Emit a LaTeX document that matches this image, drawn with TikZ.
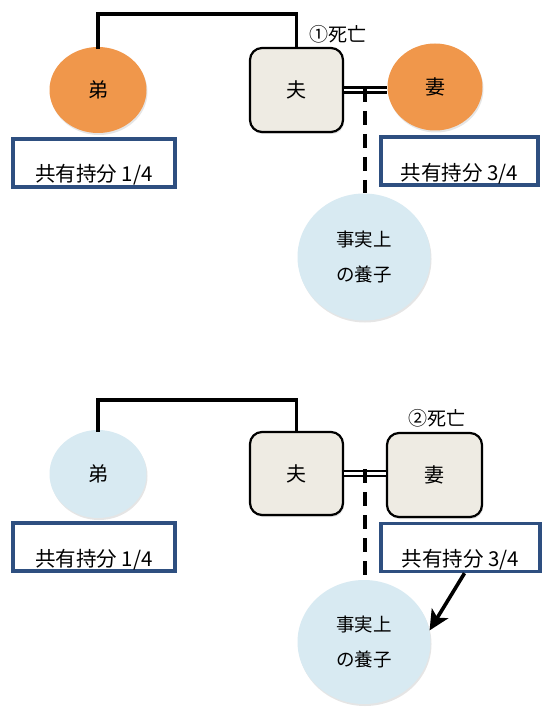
\documentclass[tikz,border=0pt]{standalone}
\usepackage{fontspec}
\setmainfont{Noto Sans CJK JP}
\usetikzlibrary{arrows.meta,positioning,shapes.geometric,shadows}
\definecolor{HeirOrange}{HTML}{F0974B}
\definecolor{HeirBlue}{HTML}{D8EAF2}
\definecolor{ShareBlue}{HTML}{2E4F80}
\definecolor{DeadBeige}{HTML}{EEEBE3}
\tikzset{
  heir/.style={ellipse,fill=HeirOrange,minimum width=97pt,minimum height=86pt,inner sep=0pt,font=\fontsize{20}{22}\selectfont,drop shadow={shadow xshift=1pt,shadow yshift=-2pt,opacity=0.2}},
  heirb/.style={heir,fill=HeirBlue},
  child/.style={heirb,minimum width=133pt,minimum height=127pt,align=center,font=\fontsize{18.5}{35}\selectfont},
  deadbox/.style={rectangle,rounded corners=12pt,draw=black,line width=2.2pt,fill=DeadBeige,minimum width=93pt,minimum height=84pt,inner sep=0pt,font=\fontsize{20}{22}\selectfont,drop shadow={shadow xshift=1pt,shadow yshift=-2pt,opacity=0.25}},
  sharebox/.style={rectangle,draw=ShareBlue,line width=3.4pt,fill=white,minimum height=48pt,text height=38pt,text depth=0pt,inner sep=0pt,font=\fontsize{20.5}{22}\selectfont},
  deathnote/.style={font=\fontsize{19}{22}\selectfont,inner sep=0pt},
  famline/.style={line width=3.8pt,line cap=rect},
  marriage/.style={double,double distance=2.4pt,line width=2.4pt},
  adopt/.style={line width=3.6pt,dash pattern=on 14pt off 9pt},
  arrowk/.style={-{Stealth[length=20pt,width=19pt,inset=5pt]},line width=3.6pt},
}
\begin{document}
\begin{tikzpicture}[x=1pt,y=-1pt]
  \useasboundingbox[fill=white] (0,0) rectangle (552,714);

  \node[heir] (ototoA) at (98,90) {弟};
  \node[deadbox] (ottoA) at (296.5,90) {夫};
  \node[heir,minimum width=95pt,minimum height=87pt] (tsumaA) at (435,87) {妻};
  \node[sharebox,minimum width=162pt] (shareA1) at (94,163) {共有持分 1/4};
  \node[sharebox,minimum width=157pt] (shareA2) at (459.5,161) {共有持分 3/4};
  \node[child] (childA) at (364,257) {事実上\\の養子};
  \node[deathnote] (deathA) at (338,34) {①死亡};
  \coordinate (jA) at (365,88);

  \draw[famline] (ototoA.north) -- ++(0,-33) -| (ottoA.north);
  \draw[marriage] (ottoA.east) -- (ottoA.east -| tsumaA.west);
  \draw[adopt] (jA) -- (jA |- childA.north);

  \node[heirb,minimum height=88pt] (ototoB) at (98,474) {弟};
  \node[deadbox,minimum height=83pt] (ottoB) at (296.5,473.5) {夫};
  \node[deadbox,minimum width=95pt] (tsumaB) at (434.5,475) {妻};
  \node[sharebox,minimum width=162pt] (shareB1) at (94,547) {共有持分 1/4};
  \node[sharebox,minimum width=159pt] (shareB2) at (460.5,547.5) {共有持分 3/4};
  \node[child,minimum height=124pt] (childB) at (364,642) {事実上\\の養子};
  \node[deathnote] (deathB) at (437,418) {②死亡};
  \coordinate (jB) at (365,469);

  \draw[famline] (ototoB.north) -- ++(0,-30) -| (ottoB.north);
  \draw[marriage] (ottoB.east) -- (ottoB.east -| tsumaB.west);
  \draw[adopt] (jB) -- (jB |- childB.north);
  \draw[arrowk] ([xshift=4pt]shareB2.south) -- (childB.10);
\end{tikzpicture}
\end{document}
